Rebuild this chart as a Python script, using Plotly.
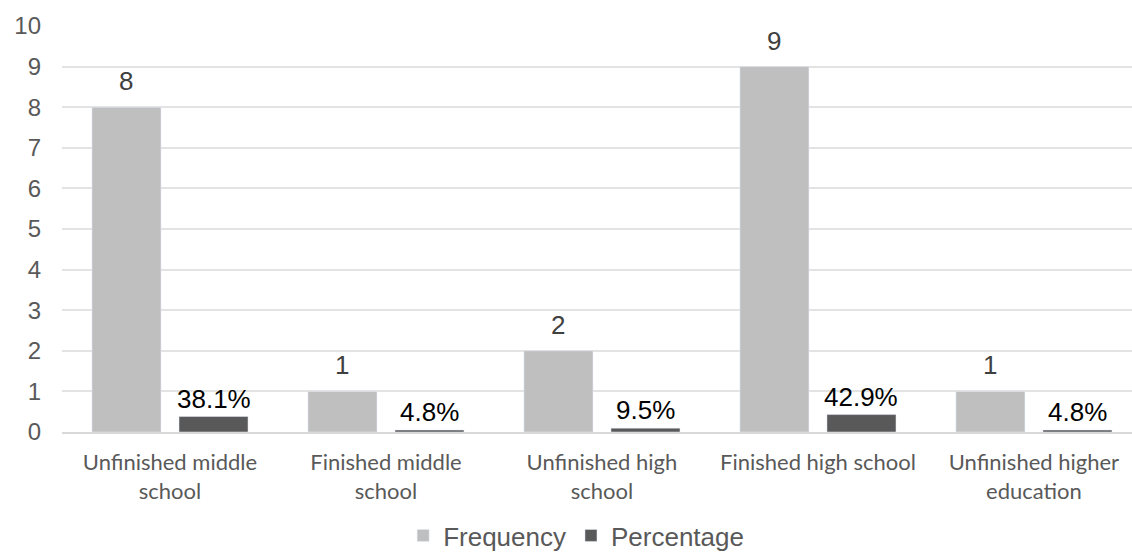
import plotly.graph_objects as go

categories = ["Unfinished middle<br>school", "Finished middle<br>school", "Unfinished high<br>school",
              "Finished high school", "Unfinished higher<br>education"]
frequency = [8, 1, 2, 9, 1]
percentage = [0.381, 0.048, 0.095, 0.429, 0.048]
pct_labels = ["38.1%", "4.8%", "9.5%", "42.9%", "4.8%"]
y_ticks = list(range(0, 11))

BARGAP = 0.194
BARGROUPGAP = 0.207
off = (1 - BARGAP) / 4

fig = go.Figure()
fig.add_trace(go.Bar(x=categories, y=frequency, name="Frequency", marker_color="#bfbfbf"))
fig.add_trace(go.Bar(x=categories, y=percentage, name="Percentage", marker_color="#595959"))

ann = []
for i, v in enumerate(frequency):
    ann.append(dict(x=i - off, y=v, xref="x", yref="y", text=str(v), showarrow=False,
                    yanchor="middle", yshift=26,
                    font=dict(family="Liberation Sans", size=26, color="#404040")))
for i, (v, t) in enumerate(zip(percentage, pct_labels)):
    ann.append(dict(x=i + off, y=v, xref="x", yref="y", text=t, showarrow=False,
                    yanchor="middle", yshift=18,
                    font=dict(family="Liberation Sans", size=26, color="#000000")))

fig.update_layout(
    width=1132, height=559,
    margin=dict(l=62, r=0, t=26, b=127),
    plot_bgcolor="white", paper_bgcolor="white",
    barmode="group", bargap=BARGAP, bargroupgap=BARGROUPGAP,
    annotations=ann,
    legend=dict(orientation="h", x=0.4805, xanchor="center", yref="container", y=-0.014,
                yanchor="bottom",
                font=dict(family="Liberation Sans", size=26, color="#595959"),
                traceorder="normal", itemwidth=30, tracegroupgap=0),
    xaxis=dict(type="category", range=[-0.5, 4.454], showgrid=False, showline=True,
               linecolor="#d9d9d9", linewidth=1.5, ticks="", automargin=False,
               ticklabelstandoff=10,
               tickfont=dict(family="Lato", size=22, color="#595959")),
    yaxis=dict(range=[0, 10], tickvals=y_ticks, showgrid=True, gridcolor="#e3e3e3", gridwidth=1.5,
               zeroline=False, ticks="", ticklabelstandoff=20, automargin=False,
               tickfont=dict(family="Liberation Sans", size=24, color="#595959")),
)
fig.write_html("out.html")
